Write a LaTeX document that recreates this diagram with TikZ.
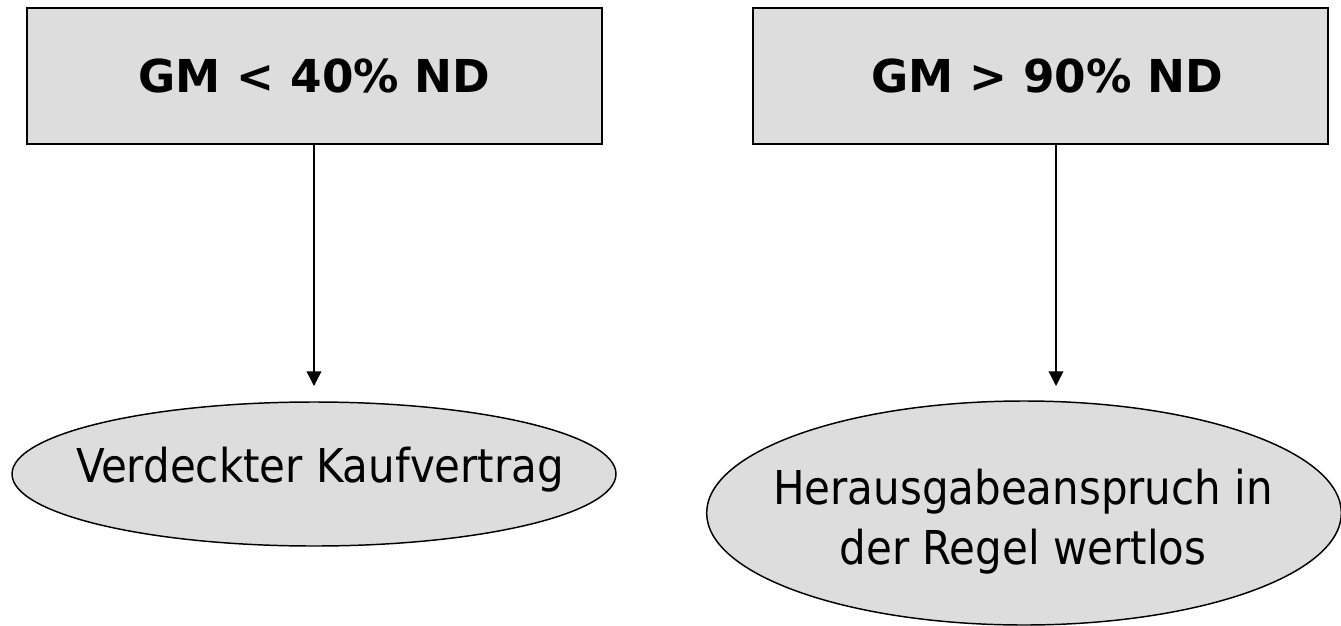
\documentclass[tikz,border=0pt]{standalone}
\usepackage{fontspec}
\setmainfont{DejaVu Sans}
\newfontfamily\condfont{DejaVu Sans Condensed}
\usetikzlibrary{shapes.geometric,arrows.meta}
\definecolor{boxgray}{HTML}{DDDDDD}
\begin{document}
\begin{tikzpicture}[x=0.75pt,y=-0.75pt,
 boxnode/.style={draw=black,line width=1.5pt,fill=boxgray,minimum width=431.25pt,minimum height=102pt,inner sep=0pt,font=\fontsize{34}{40}\selectfont\bfseries},
 ellnode/.style={ellipse,draw=black,line width=1.1pt,fill=boxgray,inner sep=0pt},
 elltext/.style={inner sep=0pt,align=center,font=\condfont\fontsize{35}{45}\selectfont},
 conn/.style={line width=1.1pt,-{Triangle[length=11pt,width=11pt]}}]
\useasboundingbox (0,0) rectangle (1341,625);
\node[boxnode] (b1) at (314.5,76) {GM < 40\% ND};
\node[boxnode] (b2) at (1040.5,76) {\hspace*{10pt}GM > 90\% ND};
\node[ellnode,minimum width=453pt,minimum height=108pt] (e1) at (314,474) {};
\node[elltext] (e1t) at (320,470) {Verdeckter Kaufvertrag};
\node[ellnode,minimum width=476pt,minimum height=168pt] (e2) at (1024,513) {};
\node[elltext] (e2t) at (1023,522) {Herausgabeanspruch in\\der Regel wertlos};
\coordinate (t1) at (314,386);
\coordinate (t2) at (1056,386);
\draw[conn] (b1.south -| t1) -- (t1);
\draw[conn] (b2.south -| t2) -- (t2);
\end{tikzpicture}
\end{document}
